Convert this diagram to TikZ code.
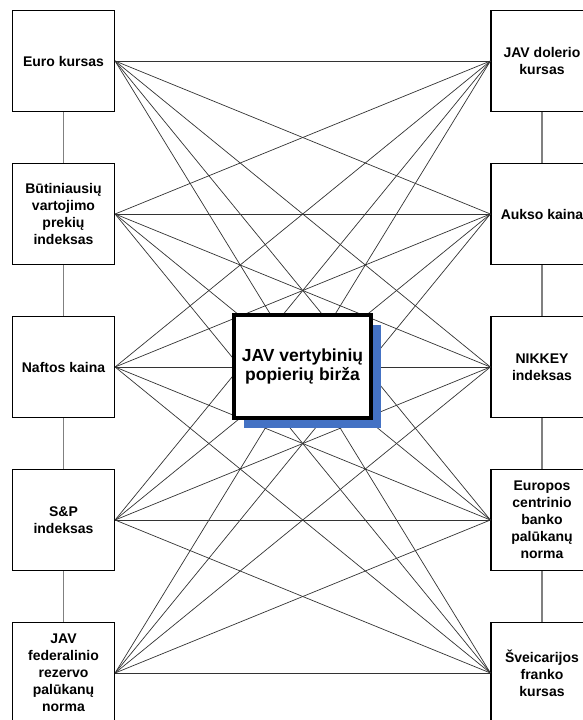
\documentclass[tikz,border=0pt]{standalone}
\usepackage{fontspec}
\setmainfont{Liberation Sans}
\usetikzlibrary{shadows}
\definecolor{shadowblue}{RGB}{68,114,196}
\tikzset{
  factor/.style={draw, line width=1.2pt, fill=white, minimum width=102pt,
    minimum height=101pt, inner sep=0pt, align=center,
    font=\fontsize{14}{17}\selectfont\bfseries},
  market/.style={draw, line width=4pt, fill=white, minimum width=137pt,
    minimum height=103pt, inner sep=0pt, align=center,
    font=\fontsize{17.5}{19.5}\selectfont\bfseries,
    drop shadow={shadow xshift=10pt, shadow yshift=-10pt, fill=shadowblue, opacity=1}},
  link/.style={line width=0.7pt, black!80},
  chain/.style={line width=1.2pt, black!50},
}
\begin{document}
\begin{tikzpicture}[x=1pt,y=-1pt]
    \useasboundingbox (0,0) rectangle (583,720);
    % Left column
    \node[factor] (euro)  at (63.5,61)  {Euro kursas};
    \node[factor] (butin) at (63.5,214) {Būtiniausių\\vartojimo\\prekių\\indeksas};
    \node[factor] (nafta) at (63.5,367) {Naftos kaina};
    \node[factor] (sp)    at (63.5,520) {S\&P\\indeksas};
    \node[factor] (fed)   at (63.5,673) {JAV\\federalinio\\rezervo\\palūkanų\\norma};
    % Right column
    \node[factor] (dolerio) at (542,61)  {JAV dolerio\\kursas};
    \node[factor] (auksas)  at (542,214) {Aukso kaina};
    \node[factor] (nikkey)  at (542,367) {NIKKEY\\indeksas};
    \node[factor] (ecb)     at (542,520) {Europos\\centrinio\\banko\\palūkanų\\norma};
    \node[factor] (frankas) at (542,673) {Šveicarijos\\franko\\kursas};
    % Chains along each side
    \foreach \a/\b in {euro/butin,butin/nafta,nafta/sp,sp/fed,
                       dolerio/auksas,auksas/nikkey,nikkey/ecb,ecb/frankas}
      \draw[chain] (\a) -- (\b);
    % Every left factor to every right factor
    \foreach \l in {euro,butin,nafta,sp,fed}
      \foreach \r in {dolerio,auksas,nikkey,ecb,frankas}
        \draw[link] (\l.east) -- (\r.west);
    % Centre
    \node[market] (birza) at (302.5,366.5) {JAV vertybinių\\popierių birža};
\end{tikzpicture}
\end{document}
